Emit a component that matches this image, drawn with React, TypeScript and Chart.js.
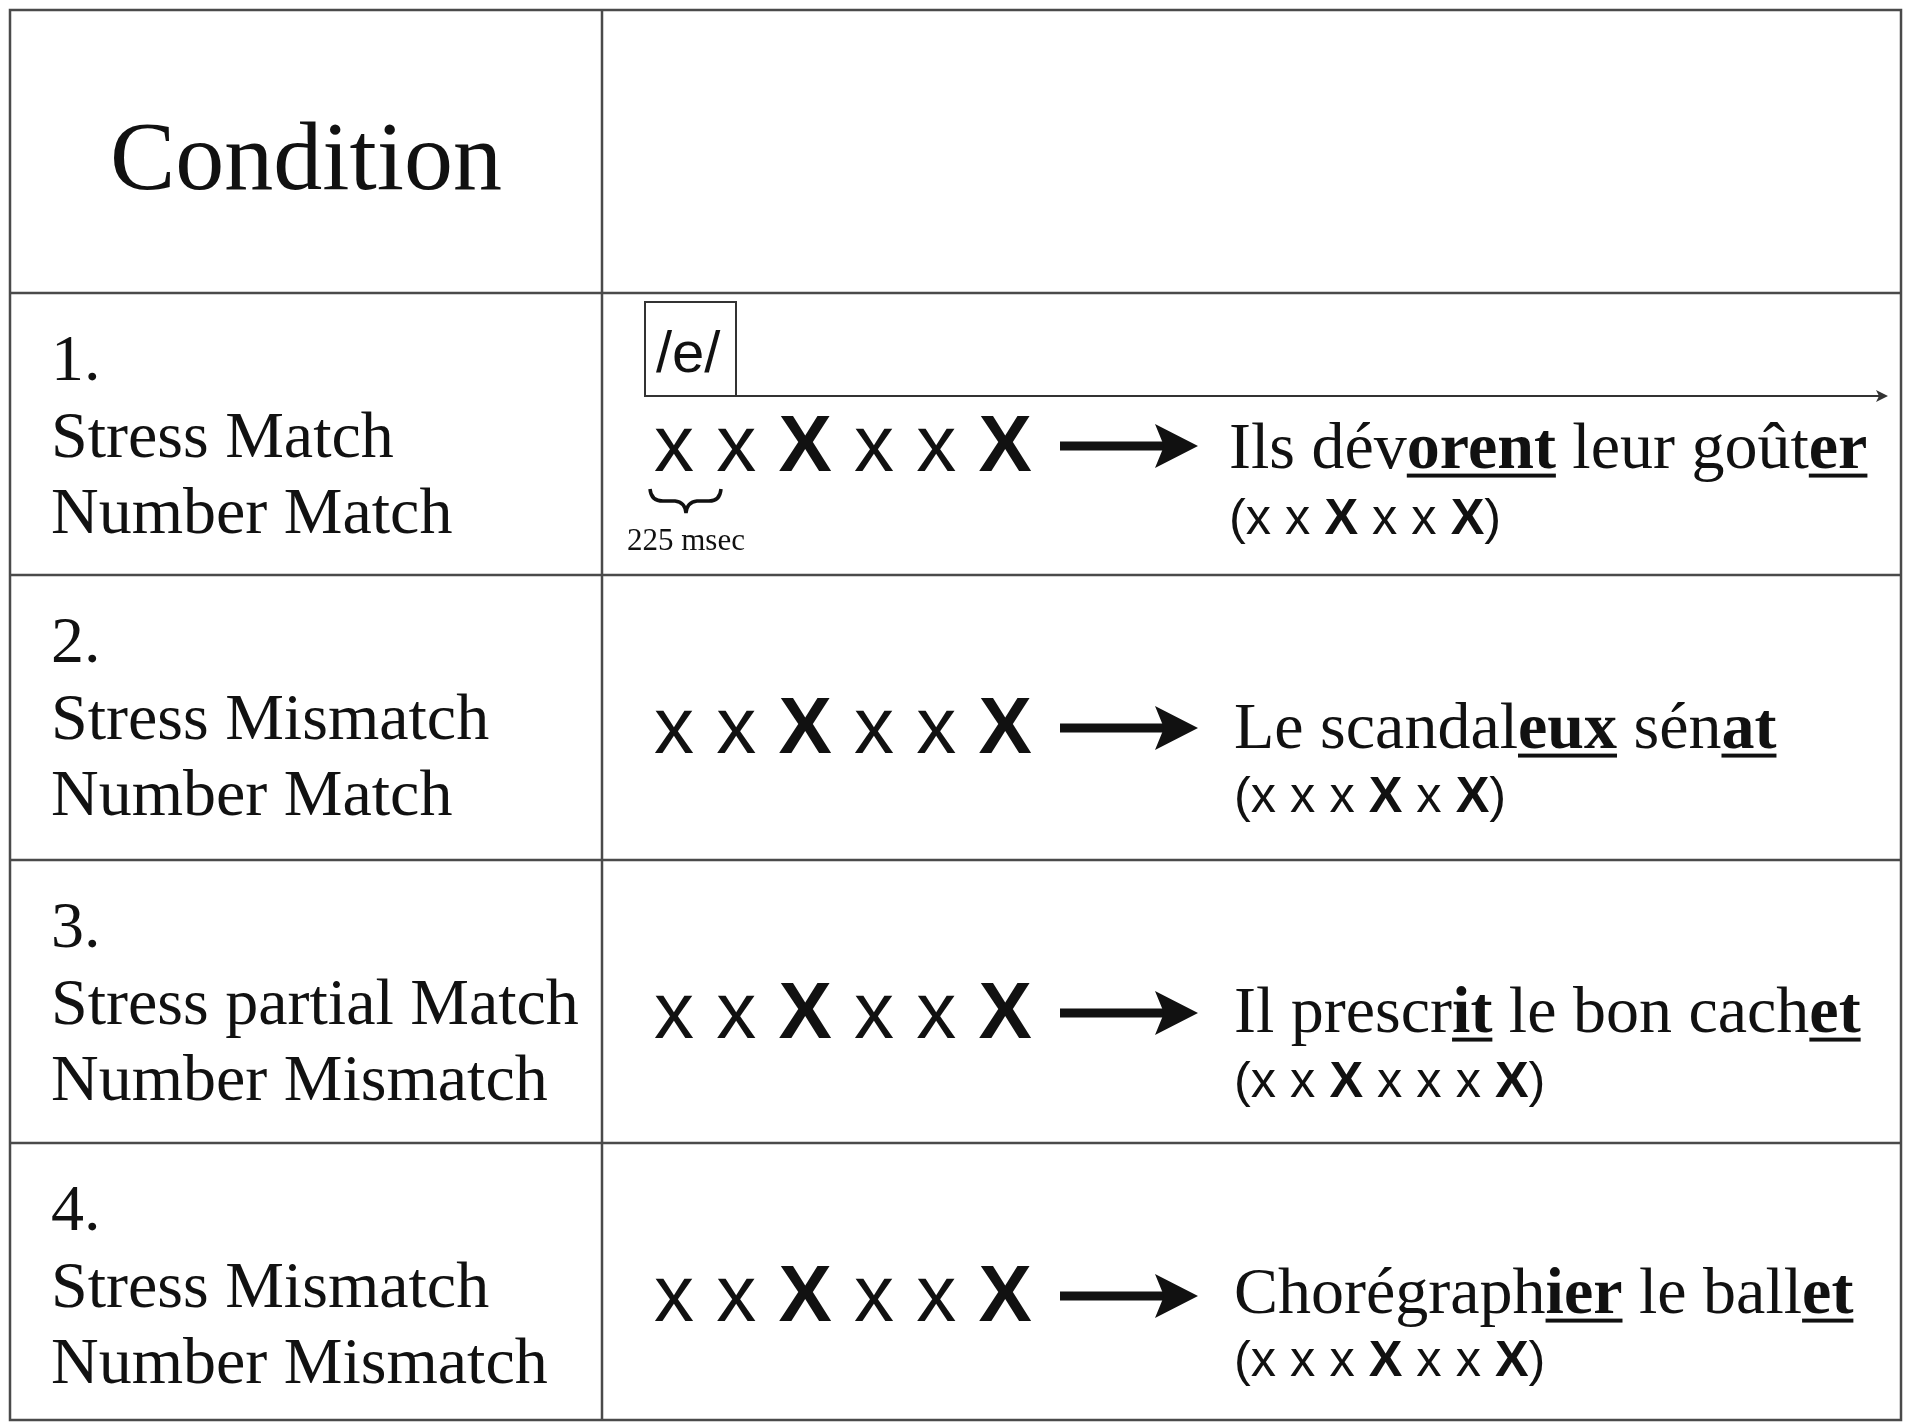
import React, { useEffect, useRef } from "react";
import { Chart, registerables } from "chart.js";

Chart.register(...registerables);

// ---------------- data ----------------
const headerLabel = "Condition";
const conditionNumbers = ["1.", "2.", "3.", "4."];
const stressLabels = ["Stress Match", "Stress Mismatch", "Stress partial Match", "Stress Mismatch"];
const numberLabels = ["Number Match", "Number Match", "Number Mismatch", "Number Mismatch"];
const primeSequences = ["x x X x x X", "x x X x x X", "x x X x x X", "x x X x x X"];
// [..] marks the stressed (bold, underlined) syllable
const targetSentences = [
  "Ils dév[orent] leur goût[er]",
  "Le scandal[eux] sén[at]",
  "Il prescr[it] le bon cach[et]",
  "Chorégraph[ier] le ball[et]",
];
const targetPatterns = ["(x x X x x X)", "(x x x X x X)", "(x x X x x x X)", "(x x x X x x X)"];
const vowelLabel = "/e/";
const intervalLabel = "225 msec";

// ---------------- layout (page units, mapped through the chart scales) ----------------
const PAGE_W = 1907;
const PAGE_H = 1424;
const colEdges = [10, 602, 1901];
const rowEdges = [10, 293, 575, 860, 1143, 1420];
const SERIF = '"Liberation Serif", "Times New Roman", serif';
const SANS = '"Liberation Sans", Arial, sans-serif';
const INK = "#111111";
const LINE = "#4a4a4a";

type Run = { text: string; bold: boolean; underline: boolean };

function parseMarked(s: string): Run[] {
  const runs: Run[] = [];
  const re = /\[([^\]]+)\]|([^\[]+)/g;
  let m: RegExpExecArray | null;
  while ((m = re.exec(s))) {
    if (m[1]) runs.push({ text: m[1], bold: true, underline: true });
    else runs.push({ text: m[2], bold: false, underline: false });
  }
  return runs;
}

function parseStress(s: string): Run[] {
  const runs: Run[] = [];
  for (const ch of s) {
    const bold = ch === "X";
    const last = runs[runs.length - 1];
    if (last && last.bold === bold) last.text += ch;
    else runs.push({ text: ch, bold, underline: false });
  }
  return runs;
}

function drawRuns(ctx: CanvasRenderingContext2D, runs: Run[], x: number, y: number, family: string, size: number) {
  let cx = x;
  ctx.textAlign = "left";
  ctx.textBaseline = "alphabetic";
  for (const r of runs) {
    ctx.font = `${r.bold ? "bold " : ""}${size}px ${family}`;
    ctx.fillText(r.text, cx, y);
    const w = ctx.measureText(r.text).width;
    if (r.underline) {
      ctx.fillRect(cx, y + size * 0.085, w, Math.max(2, size * 0.06));
    }
    cx += w;
  }
}

const tablePlugin = {
  id: "tablePlugin",
  afterDraw(chart: any) {
    const ctx: CanvasRenderingContext2D = chart.ctx;
    const xs = chart.scales.x;
    const ys = chart.scales.y;
    const X = (v: number) => xs.getPixelForValue(v);
    const Y = (v: number) => ys.getPixelForValue(v);
    const k = Math.abs(X(1) - X(0));
    ctx.save();

    // grid
    ctx.strokeStyle = LINE;
    ctx.lineWidth = 2.5 * k;
    ctx.strokeRect(X(colEdges[0]), Y(rowEdges[0]), X(colEdges[2]) - X(colEdges[0]), Y(rowEdges[5]) - Y(rowEdges[0]));
    ctx.beginPath();
    ctx.moveTo(X(colEdges[1]), Y(rowEdges[0]));
    ctx.lineTo(X(colEdges[1]), Y(rowEdges[5]));
    for (let i = 1; i < rowEdges.length - 1; i++) {
      ctx.moveTo(X(colEdges[0]), Y(rowEdges[i]));
      ctx.lineTo(X(colEdges[2]), Y(rowEdges[i]));
    }
    ctx.stroke();

    ctx.fillStyle = INK;
    ctx.strokeStyle = INK;

    // header
    ctx.font = `${98 * k}px ${SERIF}`;
    ctx.textAlign = "center";
    ctx.textBaseline = "alphabetic";
    ctx.fillText(headerLabel, X((colEdges[0] + colEdges[1]) / 2), Y(189));

    const sentenceOff = [175, 173, 172, 170];
    const patternOff = [241, 237, 237, 233];

    for (let i = 0; i < conditionNumbers.length; i++) {
      const top = rowEdges[i + 1];
      // left column labels
      ctx.textAlign = "left";
      ctx.font = `${66 * k}px ${SERIF}`;
      ctx.fillText(conditionNumbers[i], X(51), Y(top + 87));
      ctx.fillText(stressLabels[i], X(51), Y(top + 164));
      ctx.fillText(numberLabels[i], X(51), Y(top + 240));

      // prime sequence
      drawRuns(ctx, parseStress(primeSequences[i]), X(654), Y(top + 178), SANS, 80 * k);

      // thick arrow
      const ay = Y(top + 153);
      ctx.lineWidth = 9 * k;
      ctx.beginPath();
      ctx.moveTo(X(1060), ay);
      ctx.lineTo(X(1165), ay);
      ctx.stroke();
      ctx.beginPath();
      ctx.moveTo(X(1198), ay);
      ctx.lineTo(X(1155), ay - 22 * k);
      ctx.lineTo(X(1164), ay);
      ctx.lineTo(X(1155), ay + 22 * k);
      ctx.closePath();
      ctx.fill();

      // target sentence & its pattern
      const sx = i === 0 ? 1229 : 1234;
      drawRuns(ctx, parseMarked(targetSentences[i]), X(sx), Y(top + sentenceOff[i]), SERIF, 66 * k);
      drawRuns(ctx, parseStress(targetPatterns[i]), X(sx), Y(top + patternOff[i]), SANS, 50.5 * k);
    }

    // timeline in condition 1
    ctx.strokeStyle = "#333333";
    ctx.lineWidth = 2 * k;
    ctx.strokeRect(X(645), Y(302), X(736) - X(645), Y(396) - Y(302));
    ctx.beginPath();
    ctx.moveTo(X(736), Y(396));
    ctx.lineTo(X(1880), Y(396));
    ctx.stroke();
    ctx.fillStyle = "#333333";
    ctx.beginPath();
    ctx.moveTo(X(1888), Y(396));
    ctx.lineTo(X(1876), Y(390));
    ctx.lineTo(X(1879), Y(396));
    ctx.lineTo(X(1876), Y(402));
    ctx.closePath();
    ctx.fill();

    ctx.fillStyle = INK;
    ctx.textAlign = "left";
    ctx.font = `${58 * k}px ${SANS}`;
    ctx.fillText(vowelLabel, X(656), Y(372));

    // brace spanning one interval
    ctx.strokeStyle = INK;
    ctx.lineWidth = 3.5 * k;
    ctx.beginPath();
    ctx.moveTo(X(650), Y(489));
    ctx.quadraticCurveTo(X(651), Y(501), X(663), Y(501));
    ctx.lineTo(X(675), Y(501));
    ctx.quadraticCurveTo(X(685), Y(502), X(686), Y(513));
    ctx.quadraticCurveTo(X(687), Y(502), X(697), Y(501));
    ctx.lineTo(X(709), Y(501));
    ctx.quadraticCurveTo(X(720), Y(501), X(721), Y(489));
    ctx.stroke();

    ctx.font = `${31 * k}px ${SERIF}`;
    ctx.fillText(intervalLabel, X(627), Y(550));

    ctx.restore();
  },
};

export default function App() {
  const ref = useRef<HTMLCanvasElement | null>(null);

  useEffect(() => {
    document.body.style.margin = "0";
    const canvas = ref.current;
    if (!canvas) return;
    const chart = new Chart(canvas, {
      type: "scatter",
      data: { datasets: [] },
      options: {
        animation: false,
        responsive: false,
        devicePixelRatio: 1,
        layout: { padding: 0 },
        plugins: { legend: { display: false }, tooltip: { enabled: false } },
        scales: {
          x: { type: "linear", min: 0, max: PAGE_W, display: false },
          y: { type: "linear", min: 0, max: PAGE_H, reverse: true, display: false },
        },
      },
      plugins: [tablePlugin],
    });
    return () => chart.destroy();
  }, []);

  return (
    <div style={{ position: "absolute", left: 0, top: 0, width: PAGE_W, height: PAGE_H, background: "#fff" }}>
      <canvas ref={ref} width={PAGE_W} height={PAGE_H} style={{ display: "block" }} />
    </div>
  );
}
